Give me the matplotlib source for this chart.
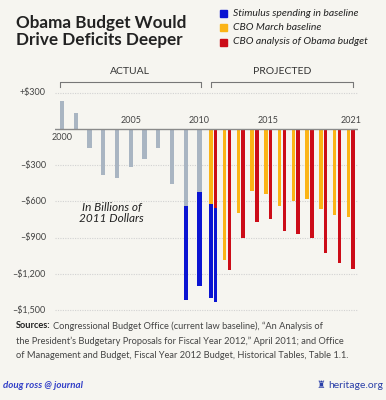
import numpy as np
import matplotlib
matplotlib.use('Agg')
import matplotlib.pyplot as plt
import matplotlib.transforms as mtransforms

plt.rcParams['font.family'] = ['Lato', 'DejaVu Sans']

# data, billions of 2011 dollars
years_actual = np.arange(2000, 2011)
actual = [235, 130, -157, -381, -409, -318, -249, -160, -456, -635, -519]
stim_actual = [0, 0, 0, 0, 0, 0, 0, 0, 0, -782, -781]

years_proj = np.arange(2011, 2022)
cbo_march = [-621, -1085, -693, -514, -541, -635, -597, -583, -666, -713, -727]
stim_march = [-782, 0, 0, 0, 0, 0, 0, 0, 0, 0, 0]
obama = [-655, -1168, -906, -768, -748, -842, -873, -906, -1025, -1108, -1163]
stim_obama = [-776, 0, 0, 0, 0, 0, 0, 0, 0, 0, 0]

yticks = [300, -300, -600, -900, -1200, -1500]
ylabels = ['+$300', '–$300', '–$600', '–$900', '–$1,200', '–$1,500']
year_labels = {2000: '2000', 2005: '2005', 2010: '2010', 2015: '2015', 2021: '2021'}

bg = '#f6f5f0'
grey = '#a9b5c2'
blue = '#0a14d2'
orange = '#fbb416'
red = '#cc0c18'
txt = '#444444'

fig = plt.figure(figsize=(3.86, 4.0), dpi=100)
fig.patch.set_facecolor(bg)
ax = fig.add_axes([55/386, 1 - 315/400, 303/386, 230/400])
ax.set_facecolor(bg)
ax.set_xlim(1999.49, 2021.53)
ax.set_ylim(-1541, 364)

ytr = mtransforms.blended_transform_factory(ax.transAxes, ax.transData)
for v, lab in zip(yticks, ylabels):
    ax.axhline(v, color='#d2d2d2', lw=0.8, ls=(0, (1, 1.2)), zorder=0)
    ax.text(-0.03, v, lab, transform=ytr, ha='right', va='center', fontsize=6.5, color=txt)

ax.bar(years_actual, actual, width=0.3, color=grey, zorder=2)
ax.bar(years_actual, stim_actual, width=0.3, bottom=actual, color=blue, zorder=2)

off = 0.17
ax.bar(years_proj - off, cbo_march, width=0.26, color=orange, zorder=2)
ax.bar(years_proj - off, stim_march, width=0.26, bottom=cbo_march, color=blue, zorder=2)
ax.bar(years_proj + off, obama, width=0.26, color=red, zorder=2)
ax.bar(years_proj + off, stim_obama, width=0.26, bottom=obama, color=blue, zorder=2)

ax.axhline(0, color='#8a8a8a', lw=1.0, zorder=3)

for yr, lab in year_labels.items():
    if yr == 2000:
        ax.text(yr, -30, lab, ha='center', va='top', fontsize=6.5, color=txt)
    else:
        ax.text(yr, 30, lab, ha='center', va='bottom', fontsize=6.5, color=txt)

for s in ax.spines.values():
    s.set_visible(False)
ax.set_xticks([])
ax.set_yticks([])

ax.text(2003.6, -700, 'In Billions of\n2011 Dollars', ha='center', va='center',
        fontsize=8.5, style='italic', color='#222222', linespacing=1.0)

# actual / projected brackets
tr = mtransforms.blended_transform_factory(ax.transData, fig.transFigure)
yb = 1 - 82/400
yt = 1 - 87/400
for x0, x1, lab in [(1999.85, 2010.1, 'ACTUAL'), (2010.85, 2021.2, 'PROJECTED')]:
    ax.plot([x0, x0, x1, x1], [yt, yb, yb, yt], color='#777777', lw=0.8,
            transform=tr, clip_on=False)
    ax.text((x0 + x1) / 2, 1 - 72/400, lab, transform=tr, ha='center', va='center',
            fontsize=7.5, color='#333333')

# title
fig.text(16/386, 1 - 23/400, 'Obama Budget Would', fontsize=12.3, fontweight='bold',
         color='#222222', va='center')
fig.text(16/386, 1 - 40/400, 'Drive Deficits Deeper', fontsize=12.3, fontweight='bold',
         color='#222222', va='center')

# legend
for i, (c, lab) in enumerate([(blue, 'Stimulus spending in baseline'),
                              (orange, 'CBO March baseline'),
                              (red, 'CBO analysis of Obama budget')]):
    yy = 1 - (13 + 14.5 * i) / 400
    fig.patches.append(plt.Rectangle((220/386, yy - 3.5/400), 7/386, 7/400, color=c,
                                     transform=fig.transFigure))
    fig.text(233/386, yy, lab, fontsize=7.5, style='italic', color='#222222', va='center')

# sources
fs = 6.7
fig.text(16/386, 1 - 326/400, 'Sources:', fontsize=fs, fontweight='bold', color='#222222', va='center')
fig.text(53/386, 1 - 326/400, 'Congressional Budget Office (current law baseline), \u201cAn Analysis of',
         fontsize=fs, color='#444444', va='center')
fig.text(16/386, 1 - 341/400, 'the President\u2019s Budgetary Proposals for Fiscal Year 2012,\u201d April 2011; and Office',
         fontsize=fs, color='#444444', va='center')
fig.text(16/386, 1 - 356/400, 'of Management and Budget, Fiscal Year 2012 Budget, Historical Tables, Table 1.1.',
         fontsize=fs, color='#444444', va='center')

# footer
fig.text(3/386, 1 - 385/400, 'doug ross @ journal', fontsize=7, style='italic', fontweight='bold',
         color='#3340c8', va='center')
fig.text(383/386, 1 - 385/400, 'heritage.org', fontsize=7.5, color='#2a3fa8', va='center', ha='right')
fig.text(321/386, 1 - 385/400, '\u265c', fontsize=7, color='#2a3fa8', va='center', ha='center',
         family='DejaVu Sans')

fig.savefig('out.png', dpi=100, facecolor=bg)
